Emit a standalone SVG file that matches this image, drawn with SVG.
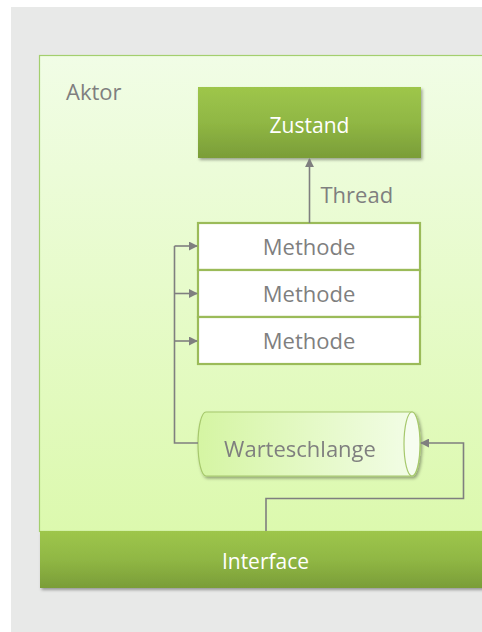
<svg xmlns="http://www.w3.org/2000/svg" width="482" height="632" viewBox="0 0 482 632">
<style>
.t{font-family:"Open Sans","Noto Sans",sans-serif;font-size:22px;fill:#7f7f7f}
.w{font-family:"Open Sans","Noto Sans",sans-serif;font-size:21px;fill:#ffffff}
.c{fill:none;stroke:#7f7f7f;stroke-width:1.6}
.m{fill:#ffffff;stroke:#9bbb59;stroke-width:2.2}
</style>
<defs>
<linearGradient id="bg" x1="0" y1="0" x2="0" y2="1"><stop offset="0" stop-color="#f1fde6"/><stop offset="1" stop-color="#dcf9ae"/></linearGradient>
<linearGradient id="gr" x1="0" y1="0" x2="0" y2="1"><stop offset="0" stop-color="#9ec64b"/><stop offset="0.5" stop-color="#90b744"/><stop offset="1" stop-color="#7a9d38"/></linearGradient>
<linearGradient id="cy" x1="0" y1="0" x2="1" y2="0"><stop offset="0" stop-color="#d5f5a3"/><stop offset="1" stop-color="#f3fde8"/></linearGradient>
<filter id="sh" x="-10%" y="-10%" width="120%" height="140%"><feDropShadow dx="1.5" dy="2" stdDeviation="1.5" flood-color="#000" flood-opacity="0.35"/></filter>
<marker id="ah2" viewBox="0 0 10 10" refX="9" refY="5" markerWidth="9" markerHeight="9" orient="auto" markerUnits="userSpaceOnUse"><path d="M0,0 L10,5 L0,10 z" fill="#7f7f7f"/></marker>
</defs>
<rect x="0" y="0" width="482" height="632" fill="#ffffff"/>
<rect x="11" y="7" width="471" height="625" fill="#e8e9e8"/>
<g id="aktor">
<rect x="39.5" y="55.5" width="460" height="476" fill="url(#bg)" stroke="#a3cf6e" stroke-width="1.2"/>
<text class="t" x="66" y="100">Aktor</text>
</g>
<g id="zustand">
<rect x="198" y="87" width="223" height="71" fill="url(#gr)" filter="url(#sh)"/>
<text class="w" x="309.5" y="132.5" text-anchor="middle">Zustand</text>
</g>
<g id="methoden">
<rect class="m" x="198" y="223" width="222" height="47"/>
<text class="t" x="309" y="255" text-anchor="middle">Methode</text>
<rect class="m" x="198" y="270" width="222" height="47"/>
<text class="t" x="309" y="302" text-anchor="middle">Methode</text>
<rect class="m" x="198" y="317" width="222" height="47"/>
<text class="t" x="309" y="349" text-anchor="middle">Methode</text>
</g>
<g id="warteschlange" filter="url(#sh)">
<path d="M206,412 L412,412 A8,32 0 0 1 412,476 L206,476 A8,32 0 0 1 206,412 z" fill="url(#cy)" stroke="#a6c86c" stroke-width="1.2"/>
<ellipse cx="412" cy="444" rx="8" ry="32" fill="#f6fdef" stroke="#a6c86c" stroke-width="1.2"/>
<text class="t" x="300" y="456.5" text-anchor="middle">Warteschlange</text>
</g>
<g id="interface">
<rect x="40" y="531" width="451" height="57" fill="url(#gr)" filter="url(#sh)"/>
<text class="w" x="265.5" y="568.5" text-anchor="middle">Interface</text>
</g>
<g id="connectors">
<line class="c" x1="309.5" y1="223" x2="309.5" y2="159" marker-end="url(#ah2)"/>
<text class="t" x="320.5" y="203">Thread</text>
<path class="c" d="M198,443 L174.5,443 L174.5,246"/>
<line class="c" x1="174.5" y1="246" x2="197" y2="246" marker-end="url(#ah2)"/>
<line class="c" x1="174.5" y1="293.5" x2="197" y2="293.5" marker-end="url(#ah2)"/>
<line class="c" x1="174.5" y1="341" x2="197" y2="341" marker-end="url(#ah2)"/>
<path class="c" d="M266,531 L266,498.5 L463.5,498.5 L463.5,443 L421,443" marker-end="url(#ah2)"/>
</g>
</svg>
